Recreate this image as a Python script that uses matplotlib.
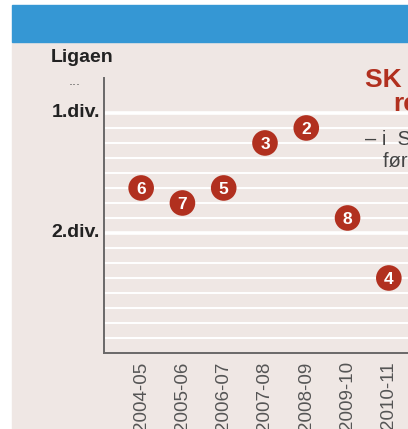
import matplotlib.pyplot as plt
from matplotlib.patches import Rectangle

# Seasons and final places, with the vertical level on the league ladder
# (1 = top of 1.div., 9 = top of 2.div.)
seasons = ['2004-05', '2005-06', '2006-07', '2007-08', '2008-09', '2009-10', '2010-11']
places = [6, 7, 5, 3, 2, 8, 4]
levels = [6, 7, 6, 3, 2, 8, 12]
div_names = ['1.div.', '2.div.']
div_levels = [1, 9]
bottom_level = 17

BG = '#efe7e4'
BLUE = '#3597d4'
RED = '#b1301f'
AXIS = '#6a6868'
TEXT = '#222222'

W, H = 408, 429
fig = plt.figure(figsize=(W / 100, H / 100), dpi=100)
fig.patch.set_facecolor('white')
fig.add_artist(Rectangle((12 / W, 0), 1, (H - 42) / H, transform=fig.transFigure,
                         color=BG, zorder=0))
fig.add_artist(Rectangle((12 / W, (H - 42) / H), 1, 37 / H, transform=fig.transFigure,
                         color=BLUE, zorder=0))

ax = fig.add_axes([104 / W, (H - 353) / H, (530 - 104) / W, (353 - 78) / H])
ax.set_facecolor('none')
ax.set_xlim(-0.9, 9.42)
ax.set_ylim(bottom_level, -1.33)

# league ladder lines
for lv in range(1, bottom_level):
    ax.axhline(lv, color='white', lw=2.6 if lv in div_levels else 1.4, zorder=1)

for s in ['top', 'right']:
    ax.spines[s].set_visible(False)
for s in ['left', 'bottom']:
    ax.spines[s].set_color(AXIS)
    ax.spines[s].set_linewidth(1.4)

ax.set_yticks([])
ax.set_xticks(range(len(seasons)))
ax.set_xticklabels(seasons, rotation=90, va='top', ha='center',
                   fontsize=13.5, color='#555555', family='Liberation Sans')
ax.tick_params(axis='x', length=0, pad=6)

for name, lv in zip(div_names, div_levels):
    ax.annotate(name, xy=(0, lv), xycoords=('axes fraction', 'data'),
                xytext=(-3, 0), textcoords='offset points', ha='right', va='center',
                fontsize=14, fontweight='bold', color=TEXT, family='Liberation Sans')
ax.annotate('...', xy=(0, -1), xycoords=('axes fraction', 'data'),
            xytext=(-17, 1), textcoords='offset points', ha='right', va='center',
            fontsize=9, color='#555555')

x = list(range(len(seasons)))
ax.scatter(x, levels, s=340, color=RED, edgecolors='none', zorder=3, clip_on=False)
for xi, lv, p in zip(x, levels, places):
    ax.text(xi, lv, str(p), ha='center', va='center_baseline', color='white',
            fontsize=12.5, fontweight='bold', family='Liberation Sans', zorder=4)

fig.text(51 / W, 1 - 57 / H, 'Ligaen', ha='left', va='center', fontsize=14,
         fontweight='bold', color=TEXT, family='Liberation Sans')

fig.text(365 / W, 1 - 87 / H, 'SK Sverre', ha='left', va='baseline', fontsize=19,
         fontweight='bold', color=RED, family='Liberation Sans')
fig.text(393 / W, 1 - 111 / H, 'resultater', ha='left', va='baseline', fontsize=19,
         fontweight='bold', color=RED, family='Liberation Sans')
fig.text(365 / W, 1 - 145 / H, '– i  Serien', ha='left', va='baseline', fontsize=14.5,
         color='#444444', family='Liberation Sans')
fig.text(383 / W, 1 - 167 / H, 'før og nå', ha='left', va='baseline', fontsize=14.5,
         color='#444444', family='Liberation Sans')

fig.savefig('out.png', dpi=100, facecolor=fig.get_facecolor())
